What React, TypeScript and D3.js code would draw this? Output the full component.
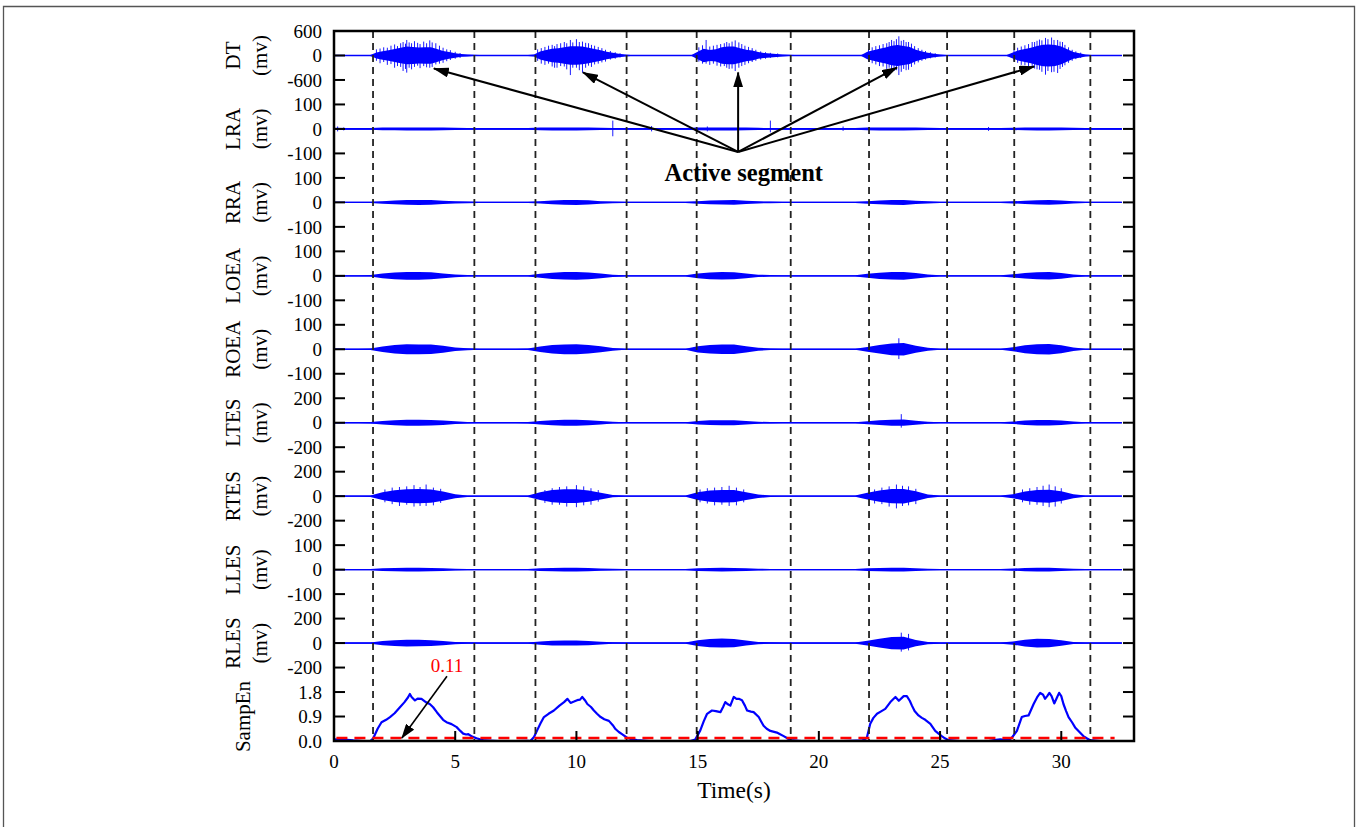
import React from "react";
import * as d3 from "d3";

// channel names and their +/- axis ranges (mv)
const channelNames = ["DT", "LRA", "RRA", "LOEA", "ROEA", "LTES", "RTES", "LLES", "RLES"];
const channelRanges = [600, 100, 100, 100, 100, 200, 200, 100, 200];

// EMG envelopes (mv). DT every 0.25 s, others every 0.5 s
const dtEnvelope = [
  15, 15, 15, 15, 15, 15, 15, 100, 140, 170, 210, 250, 290, 280, 260, 270,
  270, 210, 150, 110, 70, 45, 30, 20, 15, 15, 15, 15, 15, 15, 15, 15,
  15, 30, 130, 180, 220, 240, 270, 300, 300, 290, 250, 210, 170, 120, 90, 60,
  30, 18, 15, 15, 15, 15, 15, 15, 15, 15, 15, 15, 120, 220, 180, 200,
  270, 290, 290, 240, 190, 160, 110, 80, 65, 50, 35, 20, 15, 15, 15, 15,
  15, 15, 15, 15, 15, 15, 15, 15, 120, 170, 220, 260, 320, 340, 310, 280,
  190, 130, 90, 55, 30, 18, 15, 15, 15, 15, 15, 15, 15, 15, 15, 15,
  100, 170, 210, 250, 310, 350, 360, 340, 290, 200, 110, 70, 35, 18, 15, 15,
  15, 15, 15,
];
const lraEnvelope = [
  5, 4, 4, 4, 6, 6, 7, 7, 7, 6,
  5, 4, 4, 4, 4, 4, 4, 6, 7, 7,
  7, 6, 5, 4, 4, 4, 4, 4, 4, 4,
  6, 7, 7, 7, 6, 5, 4, 4, 4, 4,
  4, 4, 4, 4, 6, 7, 7, 7, 6, 5,
  4, 4, 4, 4, 4, 4, 5, 6, 7, 7,
  6, 5, 4, 4, 4, 4,
];
const rraEnvelope = [
  3, 3, 3, 3, 6, 9, 11, 12, 11, 8,
  5, 4, 3, 3, 3, 3, 3, 5, 9, 11,
  12, 10, 6, 4, 3, 3, 3, 3, 3, 3,
  6, 9, 10, 11, 8, 5, 4, 3, 3, 3,
  3, 3, 3, 3, 6, 9, 11, 12, 8, 5,
  3, 3, 3, 3, 3, 3, 5, 8, 10, 11,
  9, 5, 3, 3, 3, 3,
];
const loeaEnvelope = [
  3, 3, 3, 4, 12, 17, 20, 20, 18, 12,
  7, 4, 3, 3, 3, 3, 3, 10, 16, 19,
  20, 17, 12, 6, 3, 3, 3, 3, 3, 3,
  12, 17, 19, 18, 12, 6, 4, 3, 3, 3,
  3, 3, 3, 3, 10, 16, 19, 20, 14, 7,
  3, 3, 3, 3, 3, 3, 8, 14, 18, 19,
  15, 7, 3, 3, 3, 3,
];
const roeaEnvelope = [
  3, 3, 3, 4, 14, 22, 26, 25, 24, 18,
  9, 5, 3, 3, 3, 3, 4, 14, 22, 25,
  26, 22, 15, 7, 3, 3, 3, 3, 3, 3,
  16, 22, 24, 24, 16, 8, 4, 3, 3, 3,
  3, 3, 3, 3, 12, 22, 30, 32, 18, 8,
  3, 3, 3, 3, 3, 3, 10, 20, 26, 27,
  20, 9, 3, 3, 3, 3,
];
const ltesEnvelope = [
  6, 6, 6, 7, 18, 26, 30, 30, 28, 22,
  14, 8, 6, 6, 6, 6, 7, 18, 26, 30,
  30, 26, 18, 9, 6, 6, 6, 6, 6, 6,
  18, 24, 26, 26, 18, 10, 7, 6, 6, 6,
  6, 6, 6, 6, 16, 24, 30, 32, 20, 10,
  6, 6, 6, 6, 6, 6, 12, 22, 28, 28,
  22, 12, 6, 6, 6, 6,
];
const rtesEnvelope = [
  6, 6, 6, 8, 40, 60, 70, 72, 68, 48,
  20, 8, 6, 6, 6, 6, 8, 40, 62, 70,
  70, 58, 35, 12, 6, 6, 6, 6, 6, 6,
  40, 58, 64, 62, 40, 18, 8, 6, 6, 6,
  6, 6, 6, 6, 35, 58, 72, 74, 50, 18,
  6, 6, 6, 6, 6, 6, 20, 48, 62, 66,
  50, 20, 6, 6, 6, 6,
];
const llesEnvelope = [
  3, 3, 3, 3, 6, 7, 8, 8, 7, 6,
  4, 3, 3, 3, 3, 3, 3, 6, 7, 8,
  8, 7, 5, 4, 3, 3, 3, 3, 3, 3,
  6, 7, 8, 7, 6, 4, 3, 3, 3, 3,
  3, 3, 3, 3, 6, 7, 9, 9, 6, 4,
  3, 3, 3, 3, 3, 3, 5, 7, 8, 8,
  6, 4, 3, 3, 3, 3,
];
const rlesEnvelope = [
  6, 6, 6, 7, 22, 30, 34, 33, 30, 22,
  12, 8, 6, 6, 6, 6, 7, 16, 24, 26,
  26, 22, 14, 8, 6, 6, 6, 6, 6, 6,
  30, 42, 46, 42, 26, 12, 8, 6, 6, 6,
  6, 6, 6, 6, 24, 45, 62, 65, 32, 12,
  6, 6, 6, 6, 6, 6, 16, 34, 44, 42,
  28, 10, 6, 6, 6, 6,
];
const envelopes = [
  dtEnvelope, lraEnvelope, rraEnvelope, loeaEnvelope, roeaEnvelope,
  ltesEnvelope, rtesEnvelope, llesEnvelope, rlesEnvelope,
];
const envelopeSteps = [0.25, 0.5, 0.5, 0.5, 0.5, 0.5, 0.5, 0.5, 0.5];
// how much of the envelope is drawn as the dense core
const coreShare = [0.75, 0.9, 0.85, 0.8, 0.8, 0.8, 0.8, 0.9, 0.8];

// single spikes: [time, top, bottom] in mv
const dtSpikes: [number, number, number][] = [
  [1.75, 150, -130], [1.9, 170, -190], [2.05, 200, -160], [2.2, 190, -230], [2.35, 240, -210],
  [2.5, 270, -300], [2.62, 230, -260], [2.75, 300, -280], [2.85, 330, -380], [2.95, 290, -330],
  [3.0, 380, -420], [3.1, 320, -300], [3.2, 300, -340], [3.32, 350, -280], [3.45, 310, -250],
  [3.55, 280, -310], [3.7, 340, -260], [3.82, 300, -290], [3.95, 370, -300], [4.05, 320, -280],
  [4.2, 300, -220], [4.35, 240, -200], [4.5, 190, -180], [4.65, 150, -140], [4.8, 130, -110],
  [5.0, 90, -80], [5.2, 60, -60],
  [8.4, 150, -130], [8.55, 180, -200], [8.7, 210, -230], [8.85, 240, -200], [9.0, 260, -270],
  [9.1, 230, -300], [9.2, 280, -300], [9.35, 300, -260], [9.5, 330, -270], [9.6, 300, -340],
  [9.75, 380, -480], [9.85, 320, -300], [10.0, 400, -300], [10.12, 330, -360], [10.25, 340, -420],
  [10.38, 310, -300], [10.5, 300, -250], [10.62, 260, -280], [10.75, 240, -220], [10.9, 210, -200],
  [11.05, 180, -170], [11.2, 140, -150], [11.4, 110, -100], [11.6, 80, -80], [11.8, 55, -50],
  [15.05, 200, -150], [15.2, 250, -200], [15.35, 380, -200], [15.5, 220, -230], [15.65, 240, -200],
  [15.8, 260, -250], [15.95, 280, -270], [16.1, 300, -260], [16.2, 330, -300], [16.3, 300, -330],
  [16.42, 340, -320], [16.55, 370, -380], [16.7, 320, -300], [16.82, 280, -260], [16.95, 240, -230],
  [17.1, 210, -190], [17.25, 180, -160], [17.4, 140, -130], [17.6, 100, -100], [17.8, 80, -80],
  [18.0, 65, -60], [18.3, 50, -45],
  [22.05, 160, -150], [22.2, 200, -190], [22.35, 230, -220], [22.5, 250, -260], [22.65, 280, -270],
  [22.8, 300, -330], [22.9, 330, -300], [23.0, 380, -420], [23.1, 350, -380], [23.2, 400, -360],
  [23.3, 470, -480], [23.4, 360, -400], [23.5, 380, -330], [23.6, 330, -360], [23.7, 330, -350],
  [23.82, 290, -280], [23.95, 230, -220], [24.1, 180, -170], [24.25, 140, -130], [24.4, 110, -100],
  [24.6, 80, -70], [24.8, 55, -50],
  [28.05, 140, -130], [28.2, 190, -180], [28.35, 220, -230], [28.5, 250, -240], [28.65, 280, -270],
  [28.8, 330, -300], [28.9, 330, -320], [29.0, 360, -340], [29.1, 390, -350], [29.2, 370, -400],
  [29.35, 430, -470], [29.45, 400, -380], [29.6, 440, -410], [29.7, 380, -400], [29.85, 380, -430],
  [29.95, 340, -330], [30.05, 330, -280], [30.15, 260, -240], [30.3, 200, -180], [30.45, 140, -130],
  [30.6, 100, -90], [30.8, 70, -60],
];
const lraSpikes: [number, number, number][] = [
  [0.15, 10, -10], [0.4, 6, -6], [1.6, 6, -6], [11.5, 34, -30], [13.1, 12, -10],
  [15.4, 10, -10], [18.0, 34, -14], [21.0, 10, -8], [27.0, 8, -8],
];
const rtesSpikes: [number, number, number][] = [
  [2.1, 55, -50], [2.4, 70, -65], [2.7, 75, -80], [3.0, 80, -70], [3.3, 90, -85], [3.55, 75, -80],
  [3.8, 95, -80], [4.1, 70, -75], [4.4, 60, -55],
  [8.7, 50, -55], [9.0, 65, -70], [9.3, 75, -70], [9.6, 80, -85], [10.0, 90, -90], [10.3, 80, -75],
  [10.6, 65, -70], [10.9, 50, -45],
  [15.1, 55, -50], [15.4, 65, -60], [15.7, 70, -75], [16.0, 75, -70], [16.3, 85, -80], [16.6, 70, -75],
  [16.9, 55, -50],
  [22.3, 55, -60], [22.6, 70, -65], [22.9, 80, -85], [23.2, 95, -100], [23.45, 85, -80], [23.7, 80, -75],
  [24.0, 60, -65],
  [28.4, 55, -50], [28.7, 65, -70], [29.0, 75, -70], [29.25, 85, -80], [29.5, 95, -90], [29.75, 80, -85],
  [30.0, 65, -60],
];
const spikes: [number, number, number][][] = [
  dtSpikes,
  lraSpikes,
  [],
  [],
  [[23.3, 45, -40]],
  [[23.4, 70, -40]],
  rtesSpikes,
  [],
  [[23.4, 85, -70], [23.7, 75, -60]],
];

// active segment boundaries (s)
const boundaries = [1.61, 5.79, 8.31, 12.07, 14.96, 18.84, 22.07, 25.29, 28.06, 31.2];

const xTicks = [0, 5, 10, 15, 20, 25, 30];
const sampEnTicks = [1.8, 0.9, 0];
const threshold = 0.11;

// sample entropy curve [time, value]
const sampEn: [number, number][] = [
  [0, 0.06], [0.4, 0.05], [0.8, 0.02], [1.2, 0], [1.5, 0],
  [1.62, 0.1], [1.8, 0.45], [1.96, 0.69], [2.15, 0.78], [2.31, 0.88], [2.5, 1.02], [2.72, 1.24],
  [2.9, 1.42], [3.05, 1.6], [3.13, 1.73], [3.2, 1.62], [3.34, 1.49], [3.45, 1.56], [3.61, 1.55],
  [3.8, 1.42], [3.95, 1.36], [4.09, 1.24], [4.25, 1.05], [4.37, 0.92], [4.5, 0.78], [4.64, 0.69],
  [4.85, 0.62], [5.06, 0.51], [5.2, 0.38], [5.33, 0.27], [5.45, 0.24], [5.54, 0.25], [5.7, 0.16],
  [5.88, 0.1], [6.2, 0.02], [6.8, 0], [7.5, 0], [8.0, 0.01],
  [8.1, 0], [8.25, 0.15], [8.38, 0.39], [8.52, 0.65], [8.66, 0.88], [8.85, 1.0], [9.07, 1.12],
  [9.3, 1.3], [9.49, 1.43], [9.63, 1.55], [9.76, 1.4], [9.9, 1.45], [10.03, 1.5], [10.15, 1.52],
  [10.24, 1.62], [10.35, 1.5], [10.45, 1.36], [10.6, 1.25], [10.72, 1.12], [10.85, 1.0], [11.0, 0.88],
  [11.15, 0.8], [11.34, 0.74], [11.5, 0.58], [11.61, 0.44], [11.75, 0.33], [11.88, 0.25], [12.09, 0.12],
  [12.3, 0.06], [12.5, 0.03], [13.0, 0], [14.0, 0], [14.7, 0],
  [14.9, 0.05], [15.11, 0.39], [15.25, 0.72], [15.39, 1.0], [15.59, 1.12], [15.75, 1.1], [15.94, 1.06],
  [16.05, 1.25], [16.14, 1.43], [16.25, 1.35], [16.35, 1.3], [16.49, 1.62], [16.6, 1.55], [16.7, 1.55],
  [16.83, 1.5], [16.95, 1.3], [17.04, 1.12], [17.2, 1.08], [17.31, 1.06], [17.52, 0.88], [17.62, 0.72],
  [17.72, 0.56], [17.85, 0.45], [18.0, 0.37], [18.27, 0.31], [18.4, 0.25], [18.55, 0.18], [18.7, 0.1],
  [18.83, 0.03], [19.3, 0], [21.0, 0], [21.8, 0.02],
  [21.98, 0.12], [22.12, 0.63], [22.25, 0.85], [22.4, 1.0], [22.55, 1.08], [22.74, 1.18], [22.95, 1.43],
  [23.16, 1.62], [23.3, 1.48], [23.5, 1.65], [23.63, 1.65], [23.75, 1.48], [23.84, 1.3], [23.95, 1.1],
  [24.11, 0.94], [24.25, 0.85], [24.39, 0.78], [24.6, 0.63], [24.7, 0.5], [24.8, 0.37], [24.95, 0.26],
  [25.07, 0.18], [25.2, 0.1], [25.35, 0.03], [25.8, 0], [27.0, 0], [27.3, 0.04], [27.48, 0.06],
  [27.7, 0.04], [27.85, 0.05],
  [27.96, 0.12], [28.17, 0.37], [28.37, 0.88], [28.5, 0.92], [28.65, 0.94], [28.86, 1.36], [29.0, 1.6],
  [29.13, 1.77], [29.25, 1.7], [29.33, 1.55], [29.42, 1.65], [29.51, 1.77], [29.6, 1.65], [29.71, 1.38],
  [29.8, 1.55], [29.91, 1.77], [30.0, 1.65], [30.09, 1.36], [30.2, 1.1], [30.3, 0.88], [30.45, 0.68],
  [30.57, 0.5], [30.75, 0.33], [30.91, 0.18], [31.05, 0.1], [31.19, 0.03], [31.6, 0], [32.43, 0],
];

// arrow tips in the DT panel: [time, mv]
const arrowTips: [number, number][] = [[4.12, -320], [10.27, -415], [16.67, -415], [23.22, -295], [28.88, -270]];

const serif = "'Liberation Serif', 'Times New Roman', serif";
const blue = "#0000ff";

export default function App() {
  const x = d3.scaleLinear().domain([0, 33]).range([334, 1134]);
  const row = d3.scaleLinear().domain([0, 29]).range([31, 741]);
  const panelY = channelRanges.map((r, i) =>
    d3.scaleLinear().domain([r, -r]).range([row(3 * i), row(3 * i + 2)])
  );
  const sampY = d3.scaleLinear().domain([1.8, 0]).range([row(27), row(29)]);

  const top = row(0);
  const bottom = row(29);
  const left = x(0);
  const right = x(33);

  const leftTicks: { y: number; label: string }[] = [];
  channelRanges.forEach((r, i) => {
    [r, 0, -r].forEach((v) => leftTicks.push({ y: panelY[i](v), label: String(v) }));
  });
  sampEnTicks.forEach((v) => leftTicks.push({ y: sampY(v), label: v.toFixed(1) }));

  const sampLine = d3
    .line<[number, number]>()
    .x((d) => x(d[0]))
    .y((d) => sampY(d[1]));

  const apex: [number, number] = [x(16.67), row(4.94)];
  const lastT = 32.5;

  return (
    <svg
      width={1357}
      height={827}
      style={{ position: "absolute", left: 0, top: 0, background: "#fff" }}
      fontFamily={serif}
    >
      <defs>
        <marker id="bigHead" markerUnits="userSpaceOnUse" viewBox="0 0 16 10" refX="15" refY="5"
          markerWidth="16" markerHeight="10" orient="auto">
          <path d="M0,0 L16,5 L0,10 Z" fill="#000" />
        </marker>
        <marker id="smallHead" markerUnits="userSpaceOnUse" viewBox="0 0 15 10" refX="14" refY="5"
          markerWidth="15" markerHeight="10" orient="auto">
          <path d="M0,0 L15,5 L0,10 Z" fill="#000" />
        </marker>
      </defs>

      {/* outer figure border */}
      <path d="M3.5,830 L3.5,6.5 L1354.5,6.5 L1354.5,830" fill="none" stroke="#555" strokeWidth={1.3} />

      {/* EMG channels */}
      {envelopes.map((env, i) => {
        const y = panelY[i];
        const step = envelopeSteps[i];
        const k = coreShare[i];
        const core = d3
          .area<number>()
          .x((_, j) => x(j * step))
          .y0((d) => y(-d * k))
          .y1((d) => y(d * k));
        return (
          <g key={channelNames[i]}>
            <path d={core(env) || ""} fill={blue} />
            <line x1={x(0)} x2={x(lastT)} y1={y(0)} y2={y(0)} stroke={blue} strokeWidth={1.4} />
            {spikes[i].map(([t, hi, lo], n) => (
              <line key={n} x1={x(t)} x2={x(t)} y1={y(hi)} y2={y(lo)} stroke={blue} strokeWidth={0.9} />
            ))}
          </g>
        );
      })}

      {/* SampEn curve and threshold */}
      <path d={sampLine(sampEn) || ""} fill="none" stroke={blue} strokeWidth={2.2} strokeLinejoin="round" />
      <line x1={x(0.1)} x2={x(32.2)} y1={sampY(threshold)} y2={sampY(threshold)}
        stroke="#ff0000" strokeWidth={2.5} strokeDasharray="11,7" />

      {/* active segment boundaries */}
      {boundaries.map((t) => (
        <line key={t} x1={x(t)} x2={x(t)} y1={top} y2={bottom} stroke="#222" strokeWidth={1.8}
          strokeDasharray="7,5" />
      ))}

      {/* frame */}
      <rect x={left} y={top} width={right - left} height={bottom - top} fill="none" stroke="#000" strokeWidth={2.5} />

      {/* y ticks, both sides */}
      {leftTicks.map((t, i) => (
        <g key={i}>
          <line x1={left} x2={left + 11} y1={t.y} y2={t.y} stroke="#000" strokeWidth={2} />
          <line x1={right - 11} x2={right} y1={t.y} y2={t.y} stroke="#000" strokeWidth={2} />
          <text x={322} y={t.y} dy="0.35em" textAnchor="end" fontSize={19} fill="#000">
            {t.label}
          </text>
        </g>
      ))}

      {/* x ticks */}
      {xTicks.map((t) => (
        <g key={t}>
          <line x1={x(t)} x2={x(t)} y1={bottom} y2={bottom - 10} stroke="#000" strokeWidth={2} />
          <text x={x(t)} y={768} textAnchor="middle" fontSize={19} fill="#000">
            {t}
          </text>
        </g>
      ))}
      <text x={x(16.5)} y={798} textAnchor="middle" fontSize={23.5} fill="#000">
        Time(s)
      </text>

      {/* y titles */}
      {channelNames.map((name, i) => {
        const cy = panelY[i](0);
        return (
          <g key={name}>
            <text transform={`translate(240,${cy}) rotate(-90)`} textAnchor="middle" fontSize={21} fill="#000">
              {name}
            </text>
            <text transform={`translate(267,${cy}) rotate(-90)`} textAnchor="middle" fontSize={21} fill="#000">
              (mv)
            </text>
          </g>
        );
      })}
      <text transform={`translate(250,${sampY(0.9)}) rotate(-90)`} textAnchor="middle" fontSize={21} fill="#000">
        SampEn
      </text>

      {/* active segment annotation */}
      {arrowTips.map(([t, v], i) => (
        <line key={i} x1={apex[0]} y1={apex[1]} x2={x(t)} y2={panelY[0](v)} stroke="#000" strokeWidth={2}
          markerEnd="url(#bigHead)" />
      ))}
      <text x={x(16.9)} y={row(6.13)} textAnchor="middle" fontSize={24.5} fontWeight="bold" fill="#000">
        Active segment
      </text>

      {/* threshold annotation */}
      <text x={x(4.66)} y={sampY(2.54)} textAnchor="middle" fontSize={19} fill="#ff0000">
        {String(threshold)}
      </text>
      <line x1={x(4.66)} y1={sampY(2.38)} x2={x(2.8)} y2={sampY(threshold)} stroke="#000" strokeWidth={1.6}
        markerEnd="url(#smallHead)" />
    </svg>
  );
}
